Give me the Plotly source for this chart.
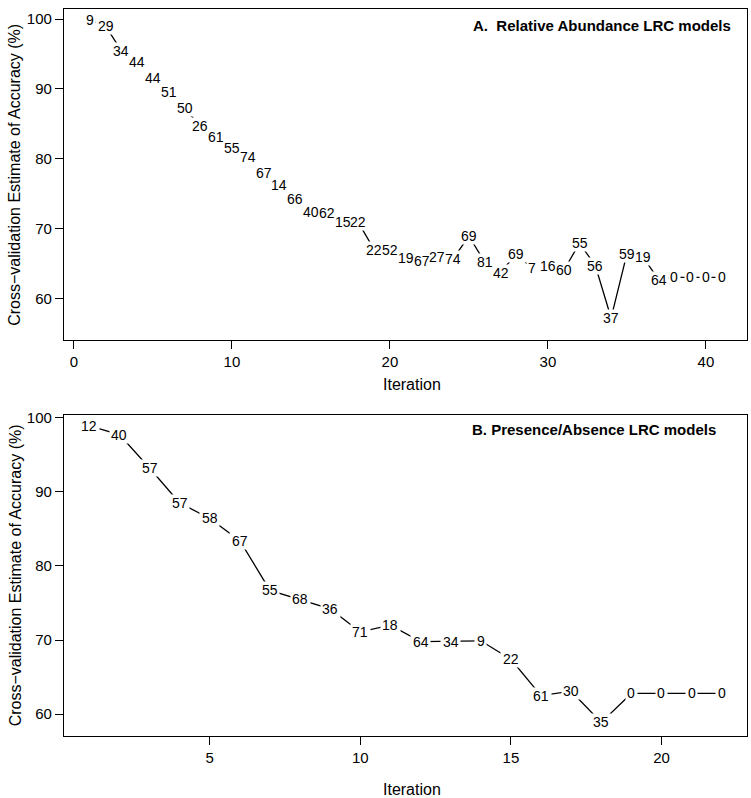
import plotly.graph_objects as go

# Panel A: Relative Abundance LRC models
iter_a = list(range(1, 42))
acc_a = [99.86, 99.0, 95.5, 93.8, 91.5, 89.6, 87.2, 84.7, 83.1, 81.6,
         80.3, 78.0, 76.2, 74.3, 72.4, 72.3, 70.9, 70.9, 67.0, 67.0,
         65.8, 65.4, 66.0, 65.7, 68.9, 65.2, 63.7, 66.4, 64.3, 64.7,
         64.0, 67.9, 64.7, 57.2, 66.4, 66.0, 62.7, 63.0, 63.0, 63.0, 63.0]
lab_a = ["9", "29", "34", "44", "44", "51", "50", "26", "61", "55",
         "74", "67", "14", "66", "40", "62", "15", "22", "22", "52",
         "19", "67", "27", "74", "69", "81", "42", "69", "7", "16",
         "60", "55", "56", "37", "59", "19", "64", "0", "0", "0", "0"]

# Panel B: Presence/Absence LRC models
iter_b = list(range(1, 23))
acc_b = [98.9, 97.7, 93.2, 88.5, 86.4, 83.4, 76.7, 75.5, 74.2, 71.1,
         72.0, 69.8, 69.8, 69.9, 67.4, 62.5, 63.1, 58.9, 62.8, 62.8, 62.8, 62.8]
lab_b = ["12", "40", "57", "57", "58", "67", "55", "68", "36", "71",
         "18", "64", "34", "9", "22", "61", "30", "35", "0", "0", "0", "0"]

ytick_vals = [60, 70, 80, 90, 100]
xtick_a = [0, 10, 20, 30, 40]
xtick_b = [5, 10, 15, 20]

FONT = "Liberation Sans, Arial, Helvetica, sans-serif"
LAB_SIZE = 14

fig = go.Figure()
fig.add_trace(go.Scatter(x=iter_a, y=acc_a, mode="lines",
                         line=dict(color="black", width=1.3),
                         xaxis="x", yaxis="y", showlegend=False, hoverinfo="skip"))
fig.add_trace(go.Scatter(x=iter_b, y=acc_b, mode="lines",
                         line=dict(color="black", width=1.3),
                         xaxis="x2", yaxis="y2", showlegend=False, hoverinfo="skip"))

annotations = []
# layer 1: white gaps under the labels (type="c" style)
for xs, ys, ls, xr, yr in [(iter_a, acc_a, lab_a, "x", "y"), (iter_b, acc_b, lab_b, "x2", "y2")]:
    for xv, yv, t in zip(xs, ys, ls):
        annotations.append(dict(x=xv, y=yv, xref=xr, yref=yr, text=t, showarrow=False,
                                bgcolor="white", borderpad=1.5, height=13, valign="middle",
                                font=dict(family=FONT, size=LAB_SIZE, color="rgba(0,0,0,0)")))
# layer 2: the labels themselves
for xs, ys, ls, xr, yr in [(iter_a, acc_a, lab_a, "x", "y"), (iter_b, acc_b, lab_b, "x2", "y2")]:
    for xv, yv, t in zip(xs, ys, ls):
        annotations.append(dict(x=xv, y=yv, xref=xr, yref=yr, text=t, showarrow=False,
                                font=dict(family=FONT, size=LAB_SIZE, color="black")))

# Panel titles
annotations.append(dict(x=0.9795, y=0.9768, xref="paper", yref="paper",
                        text="<b>A.\u00a0\u00a0Relative Abundance LRC models</b>", showarrow=False,
                        xanchor="right", yanchor="middle",
                        font=dict(family=FONT, size=15, color="black")))
annotations.append(dict(x=0.9575, y=0.4216, xref="paper", yref="paper",
                        text="<b>B. Presence/Absence LRC models</b>", showarrow=False,
                        xanchor="right", yanchor="middle",
                        font=dict(family=FONT, size=15, color="black")))
# Axis titles
for yy in [0.4829, -0.0737]:
    annotations.append(dict(x=0.5095, y=yy, xref="paper", yref="paper", text="Iteration",
                            showarrow=False, xanchor="center", yanchor="middle",
                            font=dict(family=FONT, size=16, color="black")))
for yy in [0.772, 0.221]:
    annotations.append(dict(x=-0.0717, y=yy, xref="paper", yref="paper",
                            text="Cross\u2212validation Estimate of Accuracy (%)",
                            textangle=-90, showarrow=False, xanchor="center", yanchor="middle",
                            font=dict(family=FONT, size=16, color="black")))

axis_common = dict(showline=True, linecolor="black", linewidth=1.3, mirror=True,
                   ticks="outside", ticklen=8, tickwidth=1.3, tickcolor="black",
                   showgrid=False, zeroline=False,
                   tickfont=dict(family=FONT, size=15, color="black"))

fig.update_layout(
    width=751, height=798,
    margin=dict(l=64, r=4, t=3, b=62),
    paper_bgcolor="white", plot_bgcolor="white",
    annotations=annotations,
    xaxis=dict(domain=[0, 1], range=[-0.63, 42.6], tickvals=xtick_a, anchor="y", **axis_common),
    yaxis=dict(domain=[0.5443, 1.0], range=[54.0, 101.45], tickvals=ytick_vals, anchor="x", **axis_common),
    xaxis2=dict(domain=[0, 1], range=[0.16, 22.84], tickvals=xtick_b, anchor="y2", **axis_common),
    yaxis2=dict(domain=[0.0, 0.4420], range=[57.06, 100.4], tickvals=ytick_vals, anchor="x2", **axis_common),
)

fig.write_html("out.html", config={"displayModeBar": False},
               post_script="document.body.style.margin='0px';document.body.style.overflow='hidden';")
